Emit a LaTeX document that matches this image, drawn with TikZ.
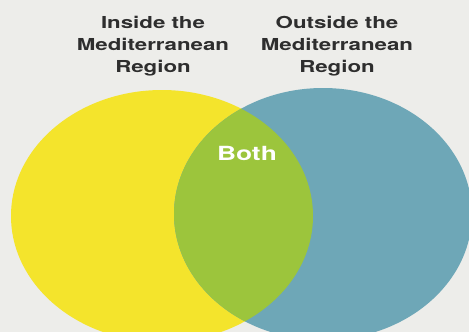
\documentclass[tikz,border=0pt]{standalone}
\usepackage{fontspec}
\setmainfont{TeX Gyre Heros}
\newfontfamily\widefont[FakeStretch=1.35]{TeX Gyre Heros}
\definecolor{bg}{HTML}{EDEDEA}
\definecolor{vyellow}{HTML}{F4E42C}
\definecolor{vblue}{HTML}{6EA7B7}
\definecolor{vgreen}{HTML}{9CC53C}
\definecolor{txt}{HTML}{2E2E2E}
\begin{document}
\begin{tikzpicture}[x=1pt,y=1pt,
  title/.style={font=\widefont\bfseries\fontsize{16.5}{22}\selectfont, text=txt, align=center, inner sep=0pt},
  both/.style={font=\widefont\bfseries\fontsize{19.5}{22}\selectfont, text=white, inner sep=0pt}]
\fill[bg] (0,0) rectangle (469,-332);
\useasboundingbox (0,0) rectangle (469,-332);
\fill[vyellow] (162,-216) ellipse [x radius=151, y radius=126];
\fill[vblue] (323,-214) ellipse [x radius=149, y radius=126];
\begin{scope}
  \clip (162,-216) ellipse [x radius=151, y radius=126];
  \fill[vgreen] (323,-214) ellipse [x radius=149, y radius=126];
\end{scope}
\node[title, anchor=base] (inside) at (153,-72) {Inside the\\Mediterranean\\Region};
\node[title, anchor=base] (outside) at (337,-72) {Outside the\\Mediterranean\\Region};
\node[both, anchor=base] (both) at (247,-160) {Both};
\end{tikzpicture}
\end{document}
